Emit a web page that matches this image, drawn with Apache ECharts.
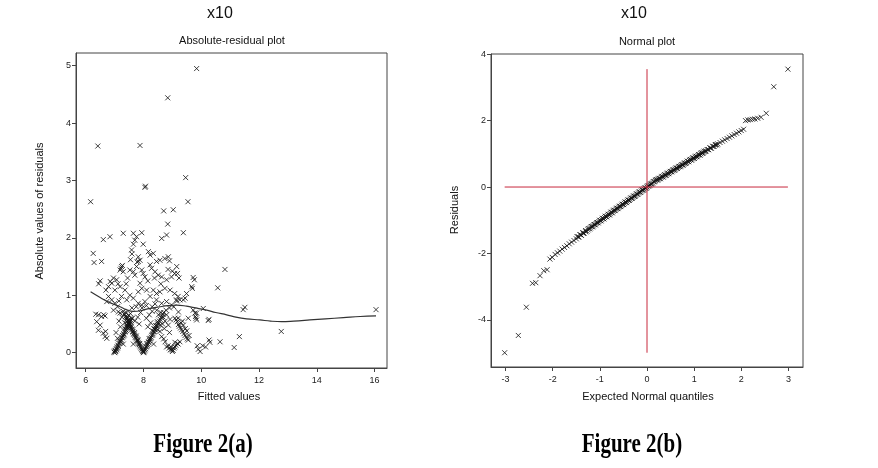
<!DOCTYPE html>
<html><head><meta charset="utf-8">
<script src="https://cdn.jsdelivr.net/npm/echarts@6/dist/echarts.min.js"></script>
<style>html,body{margin:0;padding:0;background:#fff}#c{width:878px;height:468px}</style>
</head><body><div id="c"></div>
<script>
// ---- tick labels ----
const xTicksA = [6, 8, 10, 12, 14, 16];
const yTicksA = [0, 1, 2, 3, 4, 5];
const xTicksB = [-3, -2, -1, 0, 1, 2, 3];
const yTicksB = [-4, -2, 0, 2, 4];

// ---- Figure 2(a): absolute residuals vs fitted values (x10) ----
const isolatedHigh = [[9.84,4.95],[8.84,4.44],[6.42,3.60],[7.88,3.61],[8.05,2.88],[8.07,2.90],[9.46,3.05],[6.17,2.63],[9.54,2.63],[8.70,2.47],[9.03,2.49],[8.84,2.24],[9.38,2.09]];
const band15to21 = [[6.61,1.97],[6.84,2.02],[7.30,2.08],[7.65,2.08],[7.94,2.09],[7.76,2.02],[7.70,1.96],[7.65,1.89],[7.59,1.79],[7.99,1.89],[8.63,1.99],[8.80,2.05],[6.26,1.73],[6.29,1.57],[6.55,1.59],[7.82,1.67],[7.88,1.61],[8.17,1.76],[8.23,1.70],[8.34,1.73],[8.45,1.59],[8.57,1.61],[8.74,1.64],[8.86,1.67],[8.90,1.60],[7.78,1.58],[7.60,1.72],[7.55,1.62]];
const band10to15 = [[7.24,1.50],[7.19,1.44],[7.30,1.41],[7.27,1.52],[7.22,1.47],[7.82,1.59],[7.76,1.50],[7.53,1.44],[7.65,1.41],[7.70,1.35],[7.94,1.44],[7.99,1.38],[8.05,1.32],[8.23,1.53],[8.28,1.47],[8.40,1.41],[8.51,1.35],[8.63,1.32],[8.80,1.27],[8.97,1.32],[9.08,1.38],[9.15,1.50],[9.18,1.38],[9.23,1.30],[9.76,1.27],[9.72,1.31],[9.67,1.15],[9.69,1.12],[10.82,1.45],[10.57,1.13],[6.96,1.30],[6.90,1.21],[7.07,1.27],[7.01,1.09],[6.79,1.15],[6.70,1.09],[6.85,1.24],[7.19,1.15],[7.36,1.09],[7.12,1.20],[7.88,1.21],[7.94,1.12],[7.82,1.06],[8.11,1.09],[8.34,1.09],[8.45,1.03],[8.57,1.06],[8.74,1.12],[8.92,1.09],[9.08,1.03],[9.49,1.03],[8.15,1.25],[8.38,1.30],[8.60,1.20],[8.85,1.45],[9.00,1.42],[7.45,1.30],[7.40,1.20],[6.45,1.20],[6.50,1.25]];
const band07to10 = [[7.24,0.98],[7.42,0.92],[7.53,1.00],[6.79,0.98],[6.90,0.92],[6.73,0.89],[7.01,0.86],[7.65,0.95],[7.82,0.86],[7.94,0.83],[8.05,0.89],[8.23,0.98],[8.45,0.92],[8.63,0.86],[8.80,0.89],[8.97,0.83],[9.14,0.92],[9.20,0.98],[9.44,0.95],[9.26,0.92],[9.38,0.92],[9.15,0.90],[10.07,0.77],[11.51,0.79],[11.45,0.75],[16.05,0.75],[7.10,0.80],[7.15,0.90],[8.30,0.80],[8.40,0.85],[8.90,0.78],[9.05,0.80],[9.21,0.71],[9.72,0.74],[9.78,0.69],[9.84,0.69],[9.82,0.60],[7.95,0.78],[8.10,0.82],[7.75,0.80],[7.60,0.78]];
const lowScatter = [[6.44,0.66],[6.55,0.63],[6.67,0.64],[6.38,0.54],[6.50,0.48],[6.44,0.39],[6.61,0.34],[6.67,0.28],[6.73,0.25],[6.35,0.67],[6.62,0.66],[6.69,0.37],[6.96,0.74],[7.13,0.71],[7.19,0.69],[9.55,0.60],[9.80,0.63],[9.84,0.57],[10.24,0.56],[10.27,0.58],[12.77,0.37],[11.32,0.28],[11.14,0.09],[10.65,0.19],[10.27,0.22],[10.15,0.10],[9.86,0.12],[9.96,0.02],[9.90,0.06],[10.05,0.12],[10.30,0.18],[9.20,0.15],[9.26,0.19],[9.17,0.16],[9.09,0.10],[9.12,0.13],[9.09,0.18]];
const arm91to96 = [[9.09,0.60],[9.13,0.57],[9.17,0.54],[9.21,0.49],[9.24,0.46],[9.28,0.43],[9.32,0.40],[9.36,0.37],[9.40,0.33],[9.44,0.30],[9.48,0.27],[9.52,0.24],[9.55,0.22],[9.50,0.38],[9.45,0.42],[9.38,0.48],[9.30,0.52],[9.58,0.30],[9.20,0.60],[9.35,0.55]];
const vee90 = [[8.57,0.37],[8.63,0.28],[8.70,0.24],[8.75,0.19],[8.80,0.10],[8.85,0.12],[8.89,0.08],[8.93,0.05],[8.98,0.05],[9.00,0.02],[9.03,0.04],[9.05,0.08],[8.95,0.10]];
const mid85to90 = [[8.46,0.74],[8.52,0.66],[8.60,0.70],[8.68,0.62],[8.75,0.55],[8.80,0.66],[8.86,0.48],[8.92,0.58],[8.58,0.48],[8.50,0.40],[8.72,0.42],[8.66,0.50],[8.90,0.35],[8.78,0.74]];
const mid71to83 = [[7.15,0.55],[7.20,0.45],[7.25,0.62],[7.35,0.52],[7.40,0.70],[7.48,0.65],[7.55,0.68],[7.62,0.60],[7.70,0.55],[7.80,0.62],[7.85,0.50],[7.90,0.70],[8.10,0.60],[8.15,0.45],[8.20,0.66],[8.25,0.52],[8.30,0.72],[7.05,0.35],[7.10,0.25],[7.30,0.15],[7.65,0.15],[8.35,0.15]];
const armFrom70 = [[6.98,0.01],[7.00,0.03],[7.01,0.00],[7.03,0.04],[7.04,0.02],[7.06,0.07],[7.07,0.05],[7.09,0.10],[7.10,0.08],[7.12,0.13],[7.13,0.11],[7.15,0.16],[7.17,0.17],[7.18,0.20],[7.20,0.19],[7.22,0.23],[7.23,0.21],[7.25,0.26],[7.27,0.27],[7.28,0.30],[7.30,0.29],[7.32,0.33],[7.33,0.31],[7.35,0.36],[7.37,0.37],[7.38,0.40],[7.40,0.39],[7.42,0.43],[7.44,0.44],[7.45,0.47],[7.47,0.46],[7.49,0.50],[7.50,0.48],[7.52,0.53],[7.54,0.55],[7.56,0.57],[7.58,0.60],[7.36,0.42],[7.41,0.47],[7.46,0.52],[7.51,0.44]];
const armTo80 = [[7.30,0.72],[7.33,0.68],[7.35,0.66],[7.38,0.63],[7.40,0.61],[7.42,0.58],[7.45,0.56],[7.47,0.52],[7.50,0.51],[7.52,0.47],[7.55,0.45],[7.57,0.43],[7.60,0.41],[7.62,0.37],[7.64,0.36],[7.66,0.33],[7.68,0.32],[7.70,0.30],[7.72,0.27],[7.74,0.26],[7.76,0.24],[7.78,0.22],[7.80,0.20],[7.82,0.18],[7.84,0.16],[7.86,0.14],[7.88,0.12],[7.90,0.10],[7.92,0.08],[7.94,0.06],[7.96,0.04],[7.98,0.02],[8.00,0.00],[7.99,0.03],[7.48,0.56],[7.53,0.50],[7.58,0.46],[7.44,0.61],[7.63,0.40],[7.69,0.35],[7.75,0.29],[7.81,0.22],[7.87,0.16]];
const armFrom80 = [[8.01,0.01],[8.03,0.03],[8.05,0.05],[8.07,0.07],[8.09,0.10],[8.11,0.11],[8.13,0.13],[8.15,0.15],[8.17,0.18],[8.19,0.19],[8.21,0.21],[8.23,0.24],[8.25,0.25],[8.27,0.27],[8.29,0.30],[8.31,0.31],[8.33,0.33],[8.35,0.36],[8.37,0.37],[8.39,0.40],[8.41,0.41],[8.43,0.43],[8.45,0.46],[8.47,0.47],[8.49,0.50],[8.52,0.52],[8.55,0.55],[8.58,0.58],[8.61,0.61],[8.64,0.63],[8.67,0.67],[8.70,0.70],[8.36,0.42],[8.42,0.47],[8.48,0.54],[8.32,0.38],[8.12,0.16],[8.20,0.24]];

const lowessX = [6.17,6.5,6.8,7.19,7.4,7.65,7.9,8.11,8.35,8.57,8.85,9.15,9.49,9.8,10.19,10.5,10.88,11.2,11.57,12.03,12.4,12.78,13.2,13.76,14.3,14.92,15.5,16.05];
const lowessY = [1.06,0.96,0.88,0.80,0.75,0.72,0.73,0.76,0.78,0.80,0.82,0.83,0.81,0.78,0.74,0.70,0.66,0.62,0.59,0.57,0.55,0.54,0.55,0.57,0.59,0.61,0.63,0.64];

// ---- Figure 2(b): normal plot (x10) ----
const normalQuantiles = [-3.02,-2.73,-2.56,-2.43,-2.36,-2.27,-2.19,-2.12,-2.06,-2.01,
 -1.95,-1.90,-1.85,-1.80,-1.75,-1.70,-1.65,-1.60,-1.55,-1.50,-1.45,-1.40,-1.35,-1.30,-1.25,
 -1.20,-1.17,-1.14,-1.11,-1.08,-1.05,-1.02,-0.99,-0.96,-0.93,-0.90,-0.87,-0.84,-0.81,-0.78,-0.75,-0.72,-0.69,-0.66,-0.63,-0.60,-0.57,-0.54,-0.51,-0.48,-0.45,-0.42,-0.39,-0.36,-0.33,-0.30,-0.27,-0.24,-0.21,-0.18,-0.15,-0.12,-0.09,-0.06,-0.03,0.00,
 0.03,0.06,0.09,0.12,0.15,0.18,0.21,0.24,0.27,0.30,0.33,0.36,0.39,0.42,0.45,0.48,0.51,0.54,0.57,0.60,0.63,0.66,0.69,0.72,0.75,0.78,0.81,0.84,0.87,0.90,0.93,0.96,0.99,1.02,1.05,1.08,1.11,1.14,1.17,1.20,
 1.25,1.30,1.35,1.40,1.45,1.50,1.55,1.60,1.65,1.70,1.75,1.80,1.85,1.90,1.95,2.00,
 2.05,2.09,2.14,2.19,2.24,2.29,2.35,2.42,2.53,2.69,2.99];
const residuals = [-4.99,-4.47,-3.62,-2.90,-2.88,-2.67,-2.52,-2.49,-2.17,-2.12,
 -2.03,-1.98,-1.93,-1.87,-1.82,-1.77,-1.71,-1.66,-1.61,-1.56,-1.50,-1.45,-1.40,-1.35,-1.29,
 -1.23,-1.19,-1.17,-1.13,-1.10,-1.07,-1.04,-1.01,-0.98,-0.95,-0.92,-0.89,-0.86,-0.83,-0.80,-0.76,-0.73,-0.70,-0.67,-0.64,-0.61,-0.58,-0.55,-0.52,-0.49,-0.46,-0.43,-0.40,-0.37,-0.34,-0.31,-0.28,-0.25,-0.21,-0.18,-0.15,-0.12,-0.09,-0.06,-0.03,0.00,
 0.03,0.06,0.09,0.12,0.16,0.20,0.22,0.24,0.26,0.29,0.31,0.34,0.36,0.39,0.41,0.44,0.46,0.49,0.51,0.54,0.57,0.59,0.62,0.64,0.67,0.69,0.72,0.74,0.77,0.80,0.82,0.85,0.87,0.90,0.92,0.95,0.97,1.00,1.02,1.05,
 1.09,1.13,1.17,1.22,1.26,1.30,1.34,1.38,1.42,1.46,1.50,1.54,1.58,1.62,1.66,1.70,
 1.74,2.00,2.02,2.03,2.04,2.05,2.07,2.10,2.22,3.02,3.55];
// extra observations in the dense central band
const quantilesCentral = [-1.485,-1.455,-1.425,-1.395,-1.365,-1.335,-1.305,-1.275,-1.245,-1.215,-1.185,-1.155,-1.125,-1.095,-1.065,-1.035,-1.005,-0.975,-0.945,-0.915,-0.885,-0.855,-0.825,-0.795,-0.765,-0.735,-0.705,-0.675,-0.645,-0.615,-0.585,-0.555,-0.525,-0.495,-0.465,-0.435,-0.405,-0.375,-0.345,-0.315,-0.285,-0.255,-0.225,-0.195,-0.165,-0.135,-0.105,-0.075,-0.045,-0.015,
 0.015,0.045,0.075,0.105,0.135,0.165,0.195,0.225,0.255,0.285,0.315,0.345,0.375,0.405,0.435,0.465,0.495,0.525,0.555,0.585,0.615,0.645,0.675,0.705,0.735,0.765,0.795,0.825,0.855,0.885,0.915,0.945,0.975,1.005,1.035,1.065,1.095,1.125,1.155,1.185,1.215,1.245,1.275,1.305,1.335,1.365,1.395,1.425,1.455,1.485];
const residualsCentral = [-1.49,-1.51,-1.43,-1.45,-1.37,-1.39,-1.31,-1.33,-1.25,-1.26,-1.19,-1.20,-1.13,-1.14,-1.07,-1.08,-1.00,-1.02,-0.94,-0.96,-0.88,-0.90,-0.82,-0.84,-0.76,-0.78,-0.70,-0.71,-0.64,-0.65,-0.58,-0.59,-0.52,-0.53,-0.45,-0.47,-0.39,-0.40,-0.33,-0.34,-0.27,-0.28,-0.21,-0.22,-0.15,-0.16,-0.09,-0.09,-0.03,-0.03,
 0.03,0.04,0.09,0.10,0.16,0.17,0.22,0.21,0.26,0.25,0.32,0.30,0.37,0.35,0.42,0.40,0.47,0.46,0.52,0.51,0.57,0.56,0.62,0.61,0.67,0.66,0.72,0.71,0.78,0.76,0.83,0.81,0.88,0.86,0.93,0.91,0.98,0.96,1.03,1.02,1.08,1.07,1.13,1.12,1.18,1.17,1.23,1.22,1.28,1.27];

const residualPoints = [].concat(isolatedHigh, band15to21, band10to15, band07to10, lowScatter, arm91to96, vee90, mid85to90, mid71to83, armFrom70, armTo80, armFrom80);
const lowessLine = lowessX.map((x, i) => [x, lowessY[i]]);
const normalPoints = normalQuantiles.map((q, i) => [q, residuals[i]])
  .concat(quantilesCentral.map((q, i) => [q, residualsCentral[i]]));
const rMin = Math.min(...residuals), rMax = Math.max(...residuals);
const qMin = Math.min(...normalQuantiles), qMax = Math.max(...normalQuantiles);

const X_MARK = 'path://M0,0L10,10M10,0L0,10';
const axisCol = '#444';
const markStyle = { color: 'transparent', borderColor: '#111', borderWidth: 1.0 };
const labelStyle = { fontSize: 9, color: '#222', fontFamily: 'Liberation Sans, Arial, sans-serif' };

function valAxis(gridIndex, min, max, ticks, isY) {
  return {
    type: 'value', gridIndex, min, max,
    axisLine: { show: true, onZero: false, lineStyle: { color: axisCol, width: 1 } },
    axisTick: { show: true, length: 4, inside: false, customValues: ticks, lineStyle: { color: axisCol } },
    axisLabel: Object.assign({ customValues: ticks, margin: isY ? 5 : 8 }, labelStyle),
    splitLine: { show: false }
  };
}

const chart = echarts.init(document.getElementById('c'), null, { renderer: 'canvas' });
const font = 'Liberation Sans, Arial, sans-serif';
const figFont = 'bold 21px "Liberation Serif", "Times New Roman", serif';
chart.setOption({
  animation: false,
  backgroundColor: '#fff',
  grid: [
    { left: 76, top: 53, width: 311, height: 315, show: true, borderColor: axisCol, borderWidth: 1, backgroundColor: 'transparent' },
    { left: 491, top: 54, width: 312, height: 313, show: true, borderColor: axisCol, borderWidth: 1, backgroundColor: 'transparent' }
  ],
  xAxis: [
    valAxis(0, 5.664, 16.43, xTicksA, false),
    valAxis(1, -3.31, 3.31, xTicksB, false)
  ],
  yAxis: [
    valAxis(0, -0.267, 5.221, yTicksA, true),
    valAxis(1, -5.42, 4.006, yTicksB, true)
  ],
  series: [
    { type: 'scatter', xAxisIndex: 0, yAxisIndex: 0, data: residualPoints, symbol: X_MARK, symbolSize: 5, itemStyle: markStyle, silent: true },
    { type: 'line', xAxisIndex: 0, yAxisIndex: 0, data: lowessLine, symbol: 'none', smooth: 0.4, lineStyle: { color: '#333', width: 1.2 }, silent: true, z: 3 },
    { type: 'scatter', xAxisIndex: 1, yAxisIndex: 1, data: normalPoints, symbol: X_MARK, symbolSize: 5, itemStyle: markStyle, silent: true },
    { type: 'line', xAxisIndex: 1, yAxisIndex: 1, data: [[0, rMin], [0, rMax]], symbol: 'none', lineStyle: { color: '#c8283c', width: 1 }, silent: true, z: 4 },
    { type: 'line', xAxisIndex: 1, yAxisIndex: 1, data: [[qMin, 0], [qMax, 0]], symbol: 'none', lineStyle: { color: '#c8283c', width: 1 }, silent: true, z: 4 }
  ],
  graphic: [
    { type: 'text', x: 220, y: 14, style: { text: 'x10', font: '16px ' + font, fill: '#111', align: 'center', verticalAlign: 'middle' } },
    { type: 'text', x: 232, y: 41, style: { text: 'Absolute-residual plot', font: '11px ' + font, fill: '#111', align: 'center', verticalAlign: 'middle' } },
    { type: 'text', x: 229, y: 397, style: { text: 'Fitted values', font: '11px ' + font, fill: '#111', align: 'center', verticalAlign: 'middle' } },
    { type: 'text', x: 40, y: 211, rotation: Math.PI / 2, style: { text: 'Absolute values of residuals', font: '11px ' + font, fill: '#111', align: 'center', verticalAlign: 'middle' } },
    { type: 'text', x: 634, y: 14, style: { text: 'x10', font: '16px ' + font, fill: '#111', align: 'center', verticalAlign: 'middle' } },
    { type: 'text', x: 647, y: 42, style: { text: 'Normal plot', font: '11px ' + font, fill: '#111', align: 'center', verticalAlign: 'middle' } },
    { type: 'text', x: 648, y: 397, style: { text: 'Expected Normal quantiles', font: '11px ' + font, fill: '#111', align: 'center', verticalAlign: 'middle' } },
    { type: 'text', x: 455, y: 210, rotation: Math.PI / 2, style: { text: 'Residuals', font: '11px ' + font, fill: '#111', align: 'center', verticalAlign: 'middle' } },
    { type: 'text', x: 203, y: 445, scaleY: 1.3, style: { text: 'Figure 2(a)', font: figFont, fill: '#000', align: 'center', verticalAlign: 'middle' } },
    { type: 'text', x: 632, y: 445, scaleY: 1.3, style: { text: 'Figure 2(b)', font: figFont, fill: '#000', align: 'center', verticalAlign: 'middle' } }
  ]
});
</script>
</body></html>
